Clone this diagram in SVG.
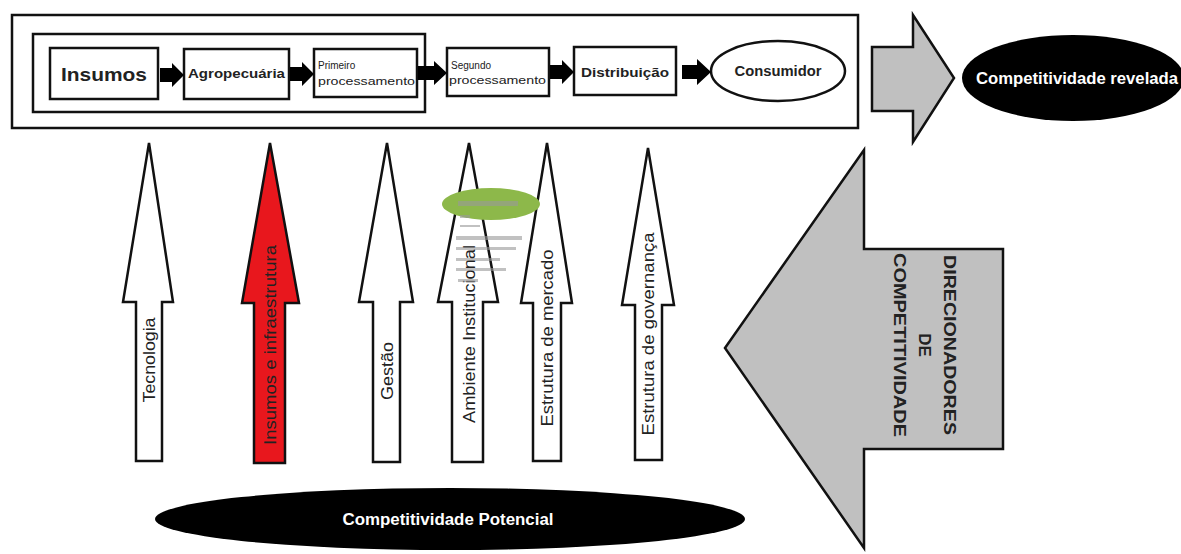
<svg xmlns="http://www.w3.org/2000/svg" width="1181" height="554" viewBox="0 0 1181 554">
<style>
.box{fill:#fff;stroke:#111;stroke-width:2.5}
.frame{fill:#fff;stroke:#111;stroke-width:2.5}
.blk{fill:#000;stroke:none}
.up{fill:#fff;stroke:#111;stroke-width:2.5;stroke-linejoin:miter}
.gray{fill:#c0c0c0;stroke:#111;stroke-width:2.5}
.t{font-family:"Liberation Sans",Arial,sans-serif;fill:#222}
.b{font-weight:bold}
.w{fill:#fff;font-family:"Liberation Sans",Arial,sans-serif;font-weight:bold}
</style>
<rect width="1181" height="554" fill="#fff"/>
<g id="cadeia">
<rect class="frame" x="12" y="15" width="846" height="113"/>
<rect class="frame" x="33" y="34" width="392" height="78"/>
</g>
<g id="insumos"><rect class="box" x="50" y="48" width="108" height="51"/><text class="t b" x="104" y="81" font-size="18" text-anchor="middle" textLength="86" lengthAdjust="spacingAndGlyphs">Insumos</text></g>
<g id="agropecuaria"><rect class="box" x="184" y="49" width="105" height="50"/><text class="t b" x="236.5" y="78" font-size="12.5" text-anchor="middle" textLength="97" lengthAdjust="spacingAndGlyphs">Agropecuária</text></g>
<g id="primeiro"><rect class="box" x="314" y="49" width="103" height="48"/><text class="t" x="318" y="69" font-size="10">Primeiro</text><text class="t" x="318" y="85" font-size="11" textLength="97" lengthAdjust="spacingAndGlyphs">processamento</text></g>
<g id="segundo"><rect class="box" x="447" y="48" width="102" height="48"/><text class="t" x="451" y="69" font-size="10">Segundo</text><text class="t" x="449" y="84" font-size="11" textLength="97" lengthAdjust="spacingAndGlyphs">processamento</text></g>
<g id="distribuicao"><rect class="box" x="574" y="47" width="102" height="48"/><text class="t b" x="625" y="77" font-size="13.5" text-anchor="middle" textLength="88" lengthAdjust="spacingAndGlyphs">Distribuição</text></g>
<g id="consumidor"><ellipse class="box" cx="778" cy="71" rx="67" ry="30"/><text class="t b" x="778" y="76" font-size="14" text-anchor="middle" textLength="87" lengthAdjust="spacingAndGlyphs">Consumidor</text></g>
<g id="conectores">
<path class="blk" d="M160,68 H172 V63 L184,75 L172,87 V82 H160 Z"/>
<path class="blk" d="M290,67 H302 V62 L314,74 L302,86 V81 H290 Z"/>
<path class="blk" d="M418,66 H434 V61 L447,73 L434,85 V80 H418 Z"/>
<path class="blk" d="M550,65 H562 V60 L574,72 L562,84 V79 H550 Z"/>
<path class="blk" d="M682,65 H697 V59 L711,72 L697,85 V79 H682 Z"/>
<path class="gray" d="M872,47 H913 V15 L954,78 L913,142 V111 H872 Z"/>
</g>
<g id="revelada"><ellipse cx="1073" cy="78" rx="111" ry="43" fill="#000"/><text class="w" x="1077" y="84" font-size="16" text-anchor="middle" textLength="202" lengthAdjust="spacingAndGlyphs">Competitividade revelada</text></g>
<g id="tecnologia"><path class="up" d="M149,143 L173,302 H162 V461 H136 V302 H123 Z"/><text class="t" transform="translate(155,360) rotate(-90)" font-size="17" text-anchor="middle" textLength="85" lengthAdjust="spacingAndGlyphs">Tecnologia</text></g>
<g id="infraestrutura"><path class="up" d="M270,143 L299,303 H285 V463 H254 V303 H242 Z" style="fill:#e8171d"/><text class="t" transform="translate(276,345) rotate(-90)" font-size="17" text-anchor="middle" textLength="200" lengthAdjust="spacingAndGlyphs" fill="#111">Insumos e infraestrutura</text></g>
<g id="gestao"><path class="up" d="M387,143 L413,302 H400 V462 H373 V302 H359 Z"/><text class="t" transform="translate(393,371) rotate(-90)" font-size="17" text-anchor="middle" textLength="58" lengthAdjust="spacingAndGlyphs">Gestão</text></g>
<g id="ambiente"><path class="up" d="M469,143 L498,302 H483 V462 H452 V302 H438 Z"/><text class="t" transform="translate(475,334) rotate(-90)" font-size="17" text-anchor="middle" textLength="178" lengthAdjust="spacingAndGlyphs">Ambiente Institucional</text></g>
<g id="mercado"><path class="up" d="M547,143 L572,303 H561 V461 H533 V303 H521 Z"/><text class="t" transform="translate(553,338) rotate(-90)" font-size="17" text-anchor="middle" textLength="177" lengthAdjust="spacingAndGlyphs">Estrutura de mercado</text></g>
<g id="governanca"><path class="up" d="M648,148 L674,305 H662 V460 H635 V305 H622 Z"/><text class="t" transform="translate(654,334) rotate(-90)" font-size="17" text-anchor="middle" textLength="203" lengthAdjust="spacingAndGlyphs">Estrutura de governança</text></g>
<g id="marca"><ellipse cx="491" cy="204" rx="49" ry="16" fill="#8db84a"/>
<g fill="#999" opacity="0.6"><rect x="458" y="201" width="60" height="5"/><rect x="460" y="215" width="10" height="3"/><rect x="460" y="225" width="20" height="2"/><rect x="456" y="236" width="66" height="4"/><rect x="456" y="247" width="60" height="3"/><rect x="456" y="258" width="44" height="3"/><rect x="456" y="268" width="50" height="3"/><rect x="458" y="279" width="20" height="3"/></g></g>
<g id="direcionadores"><path class="gray" d="M725,348 L864,150 V249 H1003 V449 H864 V548 Z"/>
<g class="t b" font-size="17" text-anchor="middle"><text transform="translate(944,345) rotate(90)" textLength="180" lengthAdjust="spacingAndGlyphs">DIRECIONADORES</text><text transform="translate(919,345) rotate(90)">DE</text><text transform="translate(894,345) rotate(90)" textLength="184" lengthAdjust="spacingAndGlyphs">COMPETITIVIDADE</text></g></g>
<g id="potencial"><ellipse cx="450" cy="519" rx="295" ry="31" fill="#000"/><text class="w" x="448" y="525" font-size="16" text-anchor="middle" textLength="211" lengthAdjust="spacingAndGlyphs">Competitividade Potencial</text></g>
</svg>
